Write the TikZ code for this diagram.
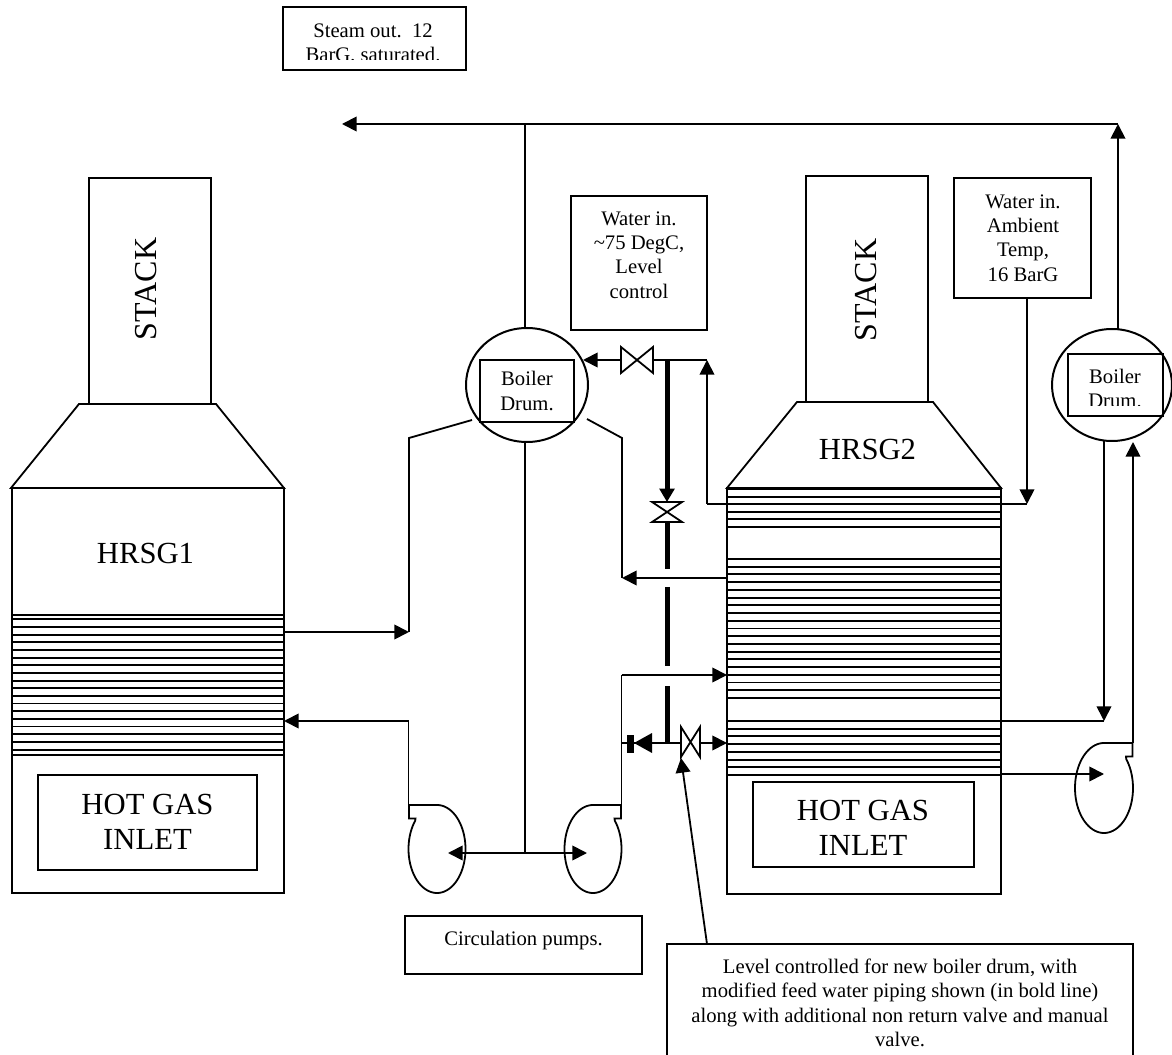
\documentclass[tikz,border=0pt]{standalone}
\usepackage{fontspec}
\setmainfont{Liberation Serif}
\usetikzlibrary{arrows.meta,shapes.geometric}
\tikzset{
  line/.style={draw=black,line width=1.35pt,line join=miter},
  pipe/.style={line,-{Triangle[length=11pt,width=11pt]}},
  boldpipe/.style={draw=black,line width=3.75pt},
  bank/.style={draw=black,line width=1.4pt},
  boxed/.style={draw=black,line width=1.5pt,inner sep=0pt,outer sep=0pt},
  small/.style={font=\fontsize{15.5}{18.3}\selectfont,align=center,inner sep=0pt},
  big/.style={font=\fontsize{23}{26.5}\selectfont,align=center,inner sep=0pt},
  bigger/.style={font=\fontsize{24}{26.5}\selectfont,align=center,inner sep=0pt},
  solidblack/.style={fill=black,draw=none},
}
\newcommand{\rbox}[6][]{%
  \pgfmathsetmacro{\cxv}{(#3+#5)/2}\pgfmathsetmacro{\cyv}{(#4+#6)/2}%
  \pgfmathsetmacro{\wv}{(#5-#3)*0.75}\pgfmathsetmacro{\hv}{(#6-#4)*0.75}%
  \node[boxed,minimum width=\wv pt,minimum height=\hv pt,#1] (#2) at (\cxv,\cyv) {};}
\newcommand{\pumpshape}[5]{% cx, cy, dir, rx, ry
  \draw[line] ({#1+#3*(#4-0.5)},{#2-#5}) -- (#1,{#2-#5})
    -- plot[domain=-90:220,samples=70,variable=\t] ({#1-#3*#4*cos(\t)},{#2+#5*sin(\t)})
    -- ({#1+#3*(#4-7)},{#2-#5+13.5}) -- ({#1+#3*(#4-0.5)},{#2-#5+13.5}) -- cycle;}
\begin{document}
\begin{tikzpicture}[x=0.75pt,y=-0.75pt]
\clip (0,0) rectangle (1172,1055);
\fill[white] (0,0) rectangle (1172,1055);

% ---- HRSG1
\rbox{stackA}{89}{178}{211}{404}
\node[bigger,rotate=90] (stackAt) at (146,289) {STACK};
\draw[line] (79,404) -- (216,404) -- (284,488) -- (11,488) -- cycle;
\rbox{bodyA}{11.5}{488}{284}{893}
\node[big] (hrsgA) at (145.5,553) {HRSG1};
\rbox{inletA}{38}{775}{257}{870}
\node[big] (inletAt) at (147.5,822) {HOT GAS\\INLET};
\foreach \yy in {615,619.3,627,634.6,642.3,650,657.6,665.3,672.9,680.6,688.2,695.9,703.5,711.2,718.8,726.5,734.1,741.8,750,755}
  \draw[bank] (11,\yy) -- (284,\yy);

% ---- HRSG2
\rbox{stackB}{806}{176}{928}{402}
\node[bigger,rotate=90] (stackBt) at (866,290) {STACK};
\draw[line] (797,402) -- (933,402) -- (1001,488) -- (727,488) -- cycle;
\rbox{bodyB}{727}{488}{1001}{894}
\node[big] (hrsgB) at (867.5,449) {HRSG2};
\rbox{inletB}{753}{782}{974}{867}
\node[big] (inletBt) at (863,828) {HOT GAS\\INLET};
\foreach \yy in {489,496.6,504.2,511.8,519.4,527}
  \draw[bank] (727,\yy) -- (1001,\yy);
\foreach \yy in {559,566.7,574.4,582.2,589.9,597.6,605.3,613,620.8,628.5,636.2,643.9,651.6,659.4,667.1,674.8,682.5,690.2,698}
  \draw[bank] (727,\yy) -- (1001,\yy);
\foreach \yy in {721,728.7,736.4,744.1,751.9,759.6,767.3,775}
  \draw[bank] (727,\yy) -- (1001,\yy);

% ---- Drums
\node[ellipse,boxed,minimum width=91.5pt,minimum height=85.5pt] (drumA) at (527,385) {};
\rbox{drumAbox}{480}{360}{574}{422}
\node[small] (drumAt) at (527,391) {Boiler\\Drum.};
\node[ellipse,boxed,minimum width=90pt,minimum height=84pt] (drumB) at (1112,385) {};
\rbox{drumBbox}{1068}{354}{1163}{416}
\begin{scope}
\clip (1068,354) rectangle (1163,405.5);
\node[small] (drumBt) at (1115,388.5) {Boiler\\Drum.};
\end{scope}

% ---- Text boxes
\rbox{steam}{283}{7}{466}{70}
\begin{scope}
\clip (283,7) rectangle (466,59.5);
\node[small] (steamt) at (373,44.5) {Steam out.~~12\\BarG, saturated.};
\end{scope}
\rbox{waterA}{571}{196}{707}{330}
\node[small] (waterAt) at (639,255) {Water in.\\{\textasciitilde}75 DegC,\\Level\\control};
\rbox{waterB}{954}{178}{1091}{298}
\node[small] (waterBt) at (1023,238) {Water in.\\Ambient\\Temp,\\16 BarG};
\rbox{circ}{405}{916}{642}{974}
\node[small] (circt) at (523.5,941) {Circulation pumps.};
\rbox{note}{667}{944}{1133}{1075}
\node[small] (notet) at (900,1003) {Level controlled for new boiler drum, with\\modified feed water piping shown (in bold line)\\along with additional non return valve and manual\\valve.};

% ---- Pumps
\pumpshape{437}{849}{-1}{28.5}{44}
\pumpshape{593}{849}{1}{28.5}{44}
\pumpshape{1104}{788}{1}{29}{45}

% ---- Named junctions
\coordinate (steamTee) at (525,124);
\coordinate (steamEnd) at (342,124);
\coordinate (steamCorner) at (1118,124);
\coordinate (pumpTee) at (525,853);
\coordinate (pumpTipL) at (448,853);
\coordinate (pumpTipR) at (587,853);
\coordinate (riserA) at (472,420);
\coordinate (riserAk) at (409,438);
\coordinate (riserAe) at (409,632);
\coordinate (bankAout) at (284,632);
\coordinate (pumpAtop) at (408.5,805);
\coordinate (pumpAk) at (408.5,721);
\coordinate (bankAin) at (284,721);
\coordinate (riserB) at (587,419);
\coordinate (riserBk) at (622,438);
\coordinate (riserBe) at (622,578);
\coordinate (bankBout) at (727,578);
\coordinate (pumpBtop) at (621.5,805);
\coordinate (pumpBk) at (621.5,675);
\coordinate (bankBin) at (727,675);
\coordinate (nrvTee) at (621.5,743);
\coordinate (valveLin) at (681,743);
\coordinate (valveLout) at (700,743);
\coordinate (bankBlow) at (727,743);
\coordinate (valveTlo) at (621,360);
\coordinate (valveThi) at (649,360);
\coordinate (feedTip) at (583,360);
\coordinate (feedCorner) at (707,360);
\coordinate (feedLow) at (707,504);
\coordinate (bankBtop) at (727,504);
\coordinate (waterBdrop) at (1027,504);
\coordinate (bankBtopE) at (1001,504);
\coordinate (bold1) at (667,360);
\coordinate (bold2) at (667,502);
\coordinate (bold3) at (667,521);
\coordinate (bold4) at (667,569);
\coordinate (bold5) at (667,587);
\coordinate (bold6) at (667,666);
\coordinate (bold7) at (667,686);
\coordinate (bold8) at (667,743);
\coordinate (drumBtop) at (1118,329);
\coordinate (drumBlowL) at (1104,441);
\coordinate (drumBlowLe) at (1104,721);
\coordinate (bankCout) at (1001,721);
\coordinate (drumBlowR) at (1133,442);
\coordinate (pumpCtop) at (1133,743);
\coordinate (bankCin) at (1001,774);
\coordinate (pumpCtip) at (1104,774);
\coordinate (noteArrow) at (707,944);
\coordinate (valveTip) at (681,758);

% ---- Connectors
\draw[pipe] (steamTee) -- (steamEnd);
\draw[line] (steamTee |- drumA.north) -- (steamTee) -- (steamCorner);
\draw[pipe] (drumBtop) -- (steamCorner);
\draw[line] (steamTee |- drumA.south) -- (pumpTee);
\draw[pipe] (pumpTee) -- (pumpTipL);
\draw[pipe] (pumpTee) -- (pumpTipR);
\draw[line] (riserA) -- (riserAk) -- (riserAe);
\draw[pipe] (bankAout) -- (riserAe);
\draw[line] (pumpAtop) -- (pumpAk);
\draw[pipe] (pumpAk) -- (bankAin);
\draw[line] (riserB) -- (riserBk) -- (riserBe);
\draw[pipe] (bankBout) -- (riserBe);
\draw[line] (pumpBtop) -- (pumpBk);
\draw[pipe] (pumpBk) -- (bankBin);
\draw[line] (nrvTee) -- (valveLin);
\draw[pipe] (valveLout) -- (bankBlow);
\draw[pipe] (valveTlo) -- (feedTip);
\draw[line] (valveThi) -- (feedCorner);
\draw[line] (bankBtop) -- (feedLow);
\draw[pipe] (feedLow) -- (feedCorner);
\draw[line] (bankBtopE) -- (waterBdrop);
\draw[pipe] (waterB.south -| waterBdrop) -- (waterBdrop);
\draw[boldpipe,-{Triangle[length=10pt,width=11pt]}] (bold1) -- (bold2);
\draw[boldpipe] (bold3) -- (bold4);
\draw[boldpipe] (bold5) -- (bold6);
\draw[boldpipe] (bold7) -- (bold8);
\draw[pipe] (drumBlowL) -- (drumBlowLe);
\draw[line] (drumBlowLe) -- (bankCout);
\draw[pipe] (pumpCtop) -- (drumBlowR);
\draw[pipe] (bankCin) -- (pumpCtip);
\draw[pipe] (noteArrow) -- (valveTip);

% ---- Valves
\draw[line,fill=white] (621,347) -- (653,373) -- (653,347) -- (621,373) -- cycle;
\draw[line,fill=white] (652,502) -- (682,502) -- (652,522) -- (682,522) -- cycle;
\draw[line,fill=white] (681,727) -- (700,757) -- (700,727) -- (681,757) -- cycle;
\fill[solidblack] (627,735) rectangle (634,753);
\fill[solidblack] (634,743) -- (652,733) -- (652,753) -- cycle;
\end{tikzpicture}
\end{document}
